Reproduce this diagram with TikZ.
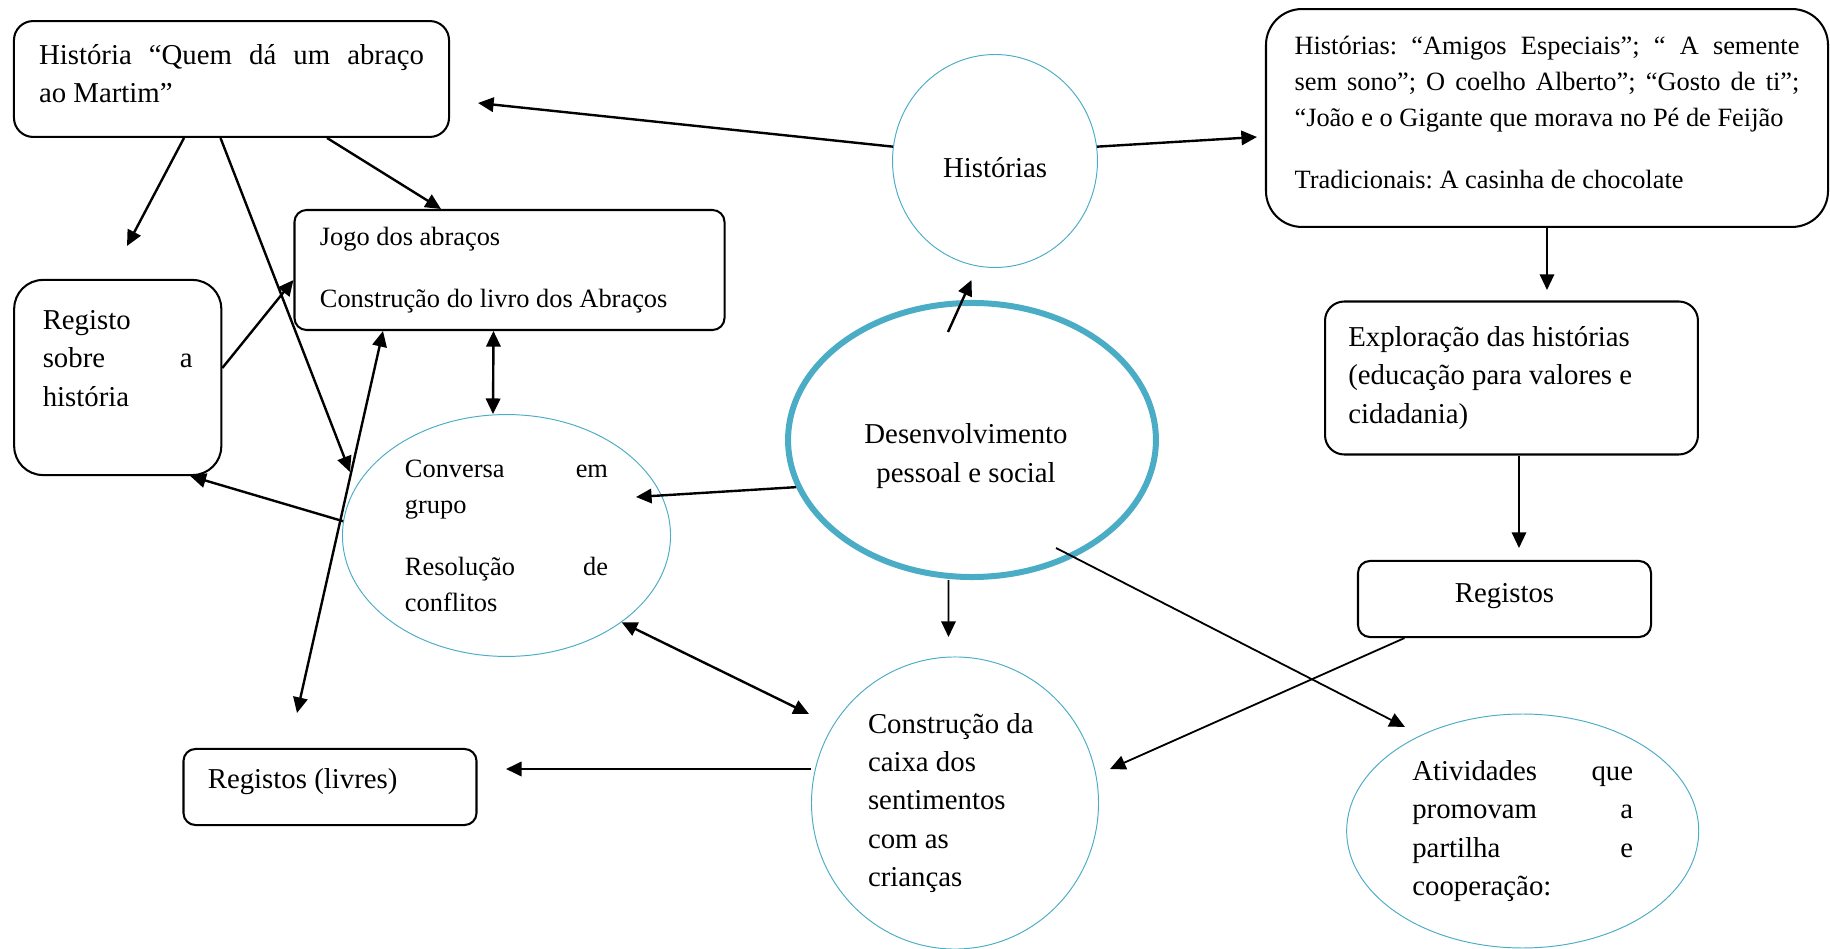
\documentclass[tikz,border=0pt]{standalone}
\usepackage{fontspec}
\setmainfont{Liberation Serif}
\usetikzlibrary{shapes.geometric,arrows.meta,calc}
\frenchspacing
\hyphenpenalty=10000
\newcommand{\px}{0.4167pt}
\newcommand{\grande}{\fontsize{12}{16}\selectfont}
\newcommand{\pequeno}{\fontsize{11}{15}\selectfont}
\newcommand{\jline}[1]{{\spaceskip=\fontdimen2\font plus 1fil\makebox[\hsize][s]{#1}}}
\definecolor{azul}{HTML}{4BACC6}
\tikzset{
  caixa/.style={draw,rounded corners=#1,line width=0.85pt,inner sep=0pt},
  caixa/.default=5pt,
  bola/.style={draw=azul,ellipse,line width=0.4pt,inner sep=0pt},
  seta/.style={-{Triangle[length=6.5pt,width=6pt]},line width=1pt},
  setafina/.style={seta,line width=0.75pt},
  setas/.style={{Triangle[length=6.5pt,width=6pt]}-{Triangle[length=6.5pt,width=6pt]},line width=1pt}
}

\begin{document}
\begin{tikzpicture}[x=\px,y=-\px]
        \useasboundingbox (0,0) rectangle (1830,949);
        \node[bola,minimum width=85.4pt,minimum height=88.75pt,align=flush center,font=\grande] (historias) at (995,161) {\mbox{}\\[-2.5pt]Histórias};
        \node[caixa=8pt,minimum width=181.3pt,minimum height=48.3pt,text width=160.4pt,align=flush left,font=\fontsize{12}{15.8}\selectfont] (historia) at (231.5,79) {\jline{História “Quem dá um abraço}\\ao Martim”\\[-11.5pt]\mbox{}};
        \coordinate (pA) at (478,103);
        \draw[seta] (historias.172) -- (pA);
        \node[caixa=15pt,minimum width=234.2pt,minimum height=90.8pt,text width=210.4pt,align=flush left,font=\pequeno] (livros) at (1547,118) {\jline{Histórias: “Amigos Especiais”; “ A semente}\\\jline{sem sono”; O coelho Alberto”; “Gosto de ti”;}\\“João e o Gigante que morava no Pé de Feijão\\[10.8pt]Tradicionais: A casinha de chocolate\\[-10pt]\mbox{}};
        \coordinate (pG) at (1257,137);
        \draw[seta] (historias.8) -- (pG);
        \node[caixa,minimum width=179.2pt,minimum height=50pt,text width=158pt,align=flush left,font=\pequeno] (jogo) at (509.5,270) {Jogo dos abraços\\[10.8pt]Construção do livro dos Abraços};
        \draw[seta] ($(historia.south)+(95.5,0)$) -- ($(jogo.north)+(-68.5,0)$);
        \node[caixa=12pt,minimum width=86.3pt,minimum height=81.3pt,text width=62.5pt,align=flush left,font=\grande] (registo) at (117.75,377.5) {Registo\\\jline{sobre a}\\história\\\mbox{}};
        \coordinate (pC) at (127,246);
        \draw[seta] ($(historia.south)+(-47.5,0)$) -- (pC);
        \draw[seta] ($(registo.east)+(0,-9.5)$) -- ($(jogo.west)+(0,10)$);
        \node[bola,minimum width=136.7pt,minimum height=100.8pt,text width=84.6pt,align=flush left,font=\pequeno] (conversa) at (506.5,535.5) {\jline{Conversa em}\\grupo\\[10.8pt]\jline{Resolução de}\\conflitos};
        \draw[setas] ($(jogo.south)+(-16,0)$) -- ($(conversa.north)+(-13.5,0)$);
        \draw[seta] (conversa.175) -- ($(registo.south east)+(-32,0)$);
        \coordinate (pD2) at (350,472);
        \draw[seta] ($(historia.south)+(-11,0)$) -- (pD2);
        \node[bola,line width=2.5pt,minimum width=153.3pt,minimum height=114.2pt] (desenv) at (972,440) {};
        \node[align=flush center,font=\grande] (desenvtexto) at (966,456) {Desenvolvimento\\pessoal e social};
        \coordinate (eIni) at (948,332);
        \coordinate (pF) at (971.5,280);
        \draw[seta] (eIni) -- (pF);
        \coordinate (pD) at (636,497);
        \draw[seta] (desenv.195) -- (pD);
        \node[caixa=8pt,minimum width=155.4pt,minimum height=63.75pt,text width=136pt,align=flush left,font=\grande] (exploracao) at (1511.5,378) {Exploração das histórias\\(educação para valores e\\cidadania)};
        \coordinate (pH) at (1547,290);
        \draw[setafina] (livros.south) -- (pH);
        \node[caixa,minimum width=122.1pt,minimum height=31.7pt,align=flush center,font=\grande] (registos) at (1504.5,599) {Registos\\[-11pt]\mbox{}};
        \coordinate (pI) at (1519,548);
        \draw[setafina] (pI |- exploracao.south) -- (pI);
        \node[bola,minimum width=119.6pt,minimum height=121.7pt,text width=72.5pt,align=flush left,font=\grande] (sentimentos) at (955,803) {Construção da\\caixa dos\\sentimentos\\com as\\crianças};
        \coordinate (pK2) at (948.5,637);
        \draw[setafina] ($(desenv.south)+(-23.5,0)$) -- (pK2);
        \coordinate (pK) at (1110,769);
        \draw[setafina] ($(registos.south)+(-100,0)$) -- (pK);
        \coordinate (pK3) at (809,714);
        \draw[setas] (conversa.-37) -- (pK3);
        \node[bola,minimum width=146.7pt,minimum height=97.5pt,text width=92pt,align=flush left,font=\grande] (atividades) at (1522.7,831) {\jline{Atividades que}\\\jline{promovam a}\\\jline{partilha e}\\cooperação:};
        \coordinate (eIni2) at (1056,548);
        \coordinate (pL) at (1405,727);
        \draw[setafina] (eIni2) -- (pL);
        \node[caixa,minimum width=122.1pt,minimum height=31.7pt,text width=101.8pt,align=flush left,font=\grande] (livres) at (330,787) {Registos (livres)\\[-9pt]\mbox{}};
        \coordinate (pJ) at (506,769);
        \draw[seta] (sentimentos.west |- pJ) -- (pJ);
        \coordinate (pJ2) at (297,713);
        \draw[setas] ($(jogo.south)+(-126.5,0)$) -- (pJ2);
\end{tikzpicture}
\end{document}
